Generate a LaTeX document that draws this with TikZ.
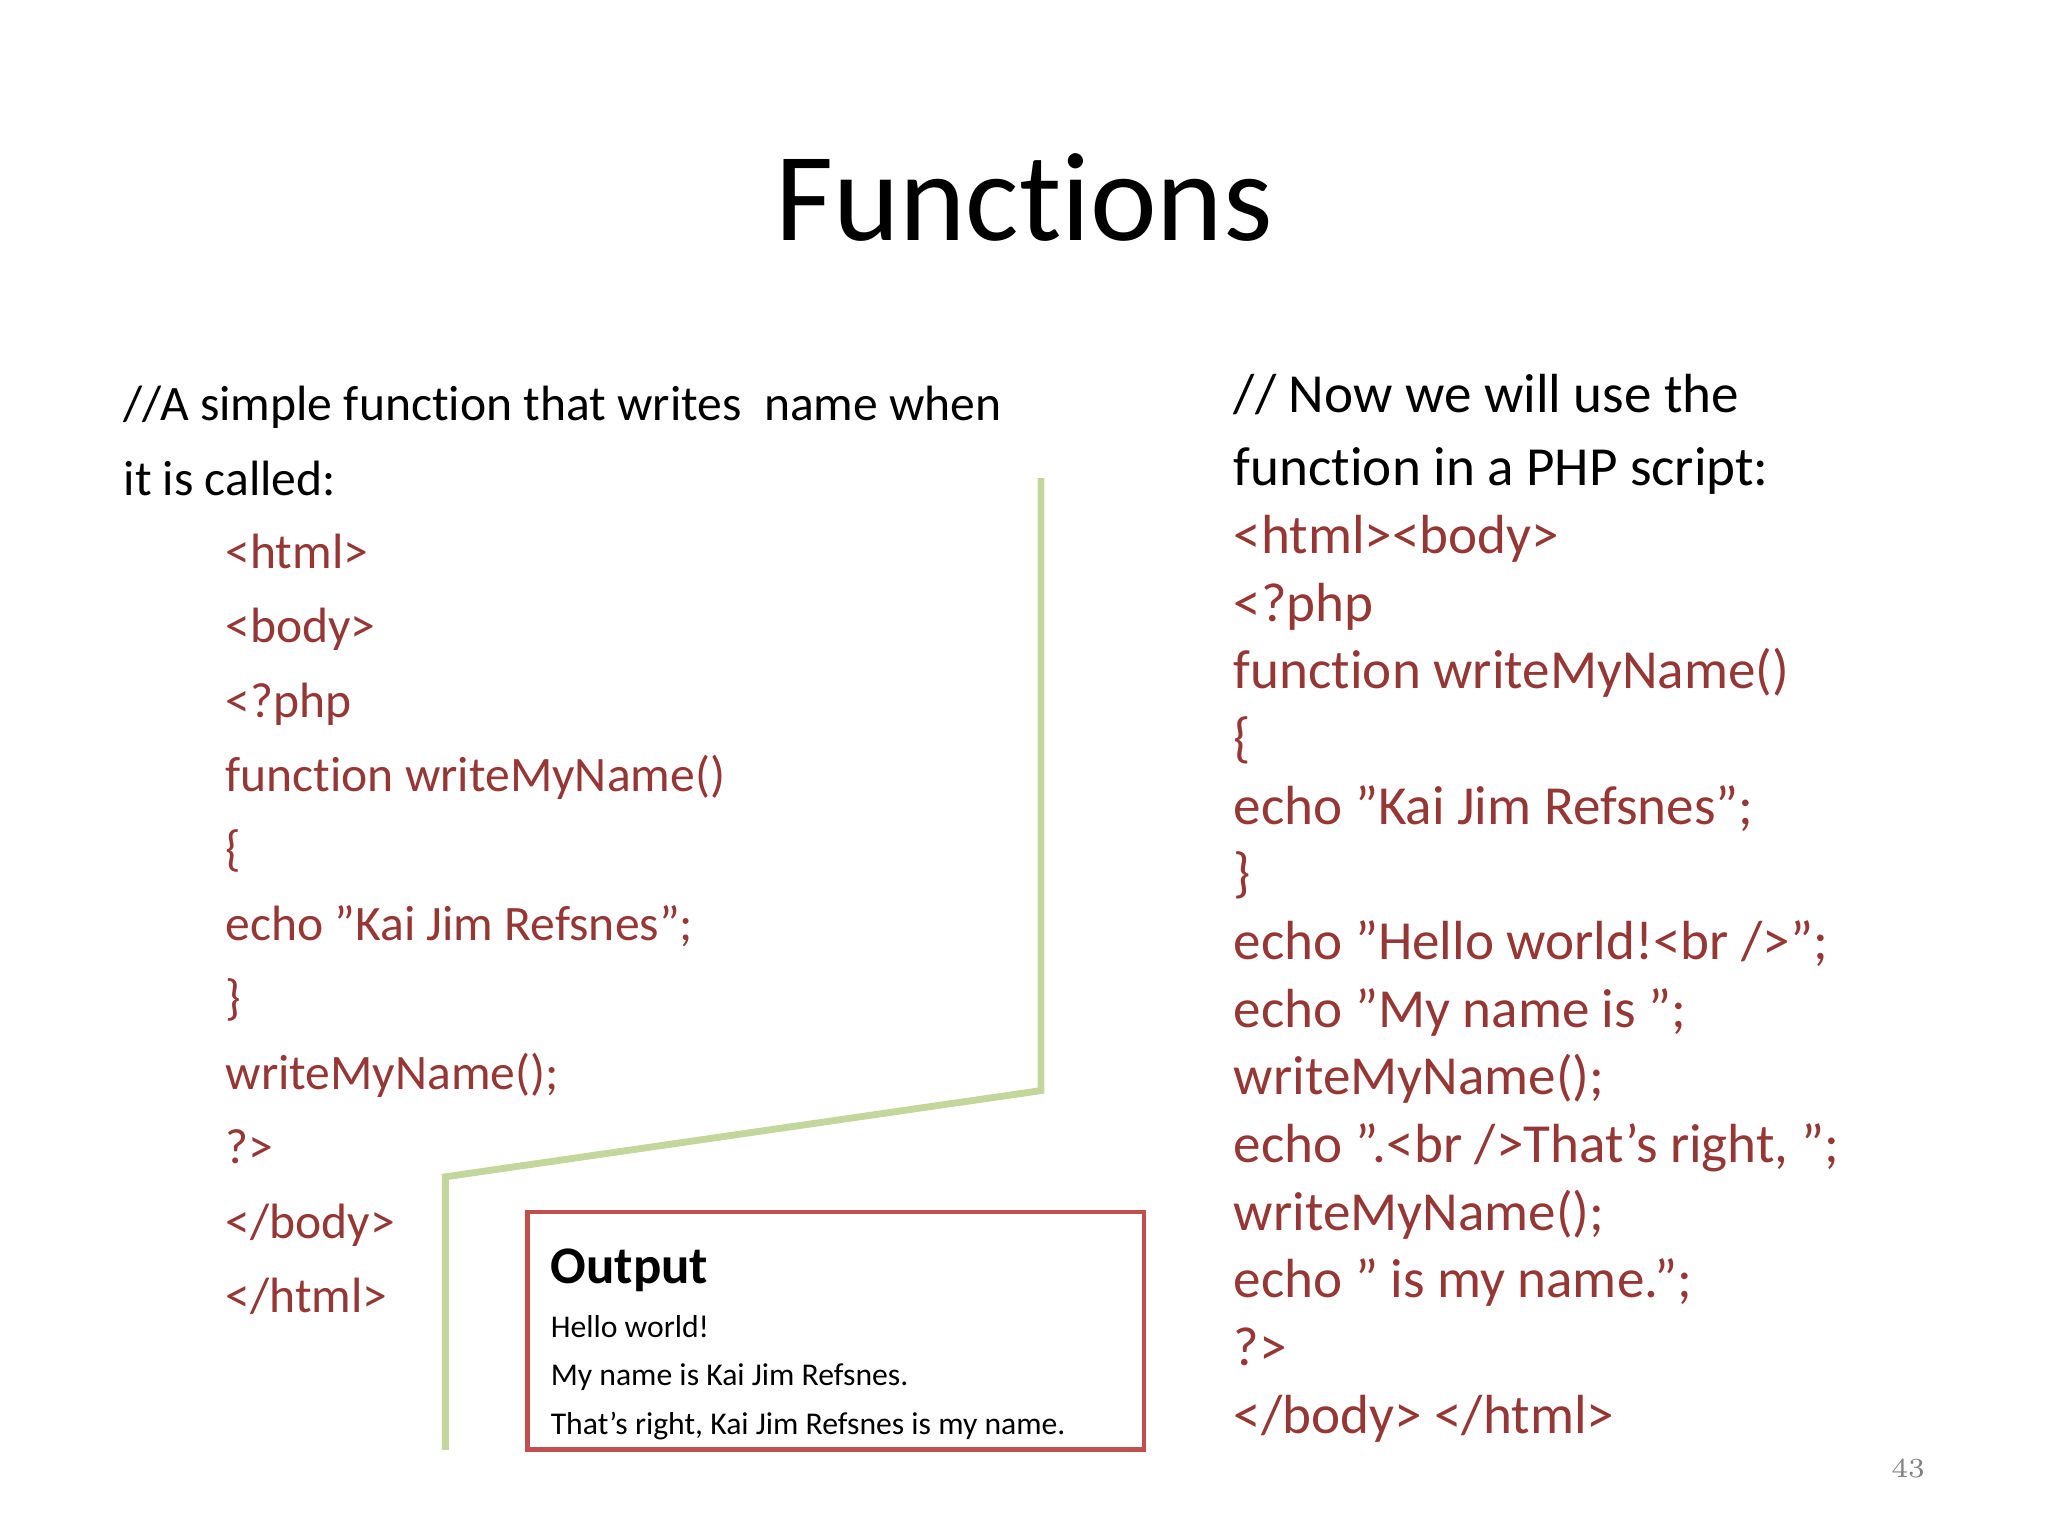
\documentclass[tikz,border=0pt]{standalone}
\usepackage{fontspec}
\setmainfont{Carlito}[Ligatures={ResetAll,NoCommon}]
\begin{document}
\begin{tikzpicture}[x=0.01cm,y=-0.01cm,
  lt/.style={anchor=base west,inner sep=0pt,font=\fontsize{10.8pt}{12pt}\selectfont},
  rt/.style={anchor=base west,inner sep=0pt,font=\fontsize{12pt}{13pt}\selectfont},
  code/.style={text=codered},
  ot/.style={anchor=base west,inner sep=0pt,font=\fontsize{6.9pt}{8pt}\selectfont}]
\definecolor{codered}{HTML}{953735}
\definecolor{gline}{HTML}{C3D69B}
\definecolor{boxred}{HTML}{C0504D}
\useasboundingbox (0,0) rectangle (1568,1176);
\node[anchor=base,inner sep=0pt,font=\fontsize{27.5pt}{30pt}\selectfont] (title) at (784,184) {Functions};
% left
\node[lt] (l1) at (94,322) {//A simple function that writes\ \ name when};
\node[lt] (l2) at (94,379) {it is called:};
\foreach \t [count=\i] in {{<html>},{<body>},{<?php},{function writeMyName()},{\{},{echo "Kai Jim Refsnes";},{\}},{writeMyName();},{?>},{</body>},{</html>}}
  \node[lt,code] (lc\i) at (172,378+57*\i) {\t};
% right
\node[rt] (r1) at (944,316) {// Now we will use the};
\node[rt] (r2) at (944,372) {function in a PHP script:};
\foreach \t [count=\i] in {{<html><body>},{<?php},{function writeMyName()},{\{},{echo "Kai Jim Refsnes";},{\}},{echo "Hello world!<br />";},{echo "My name is ";},{writeMyName();},{echo ".<br />That's right, ";},{writeMyName();},{echo " is my name.";},{?>},{</body> </html>}}
  \node[rt,code] (rc\i) at (944,372+51.8*\i) {\t};
% green line
\coordinate (g1) at (797,366);
\coordinate (g2) at (797,835);
\coordinate (g3) at (341,901);
\coordinate (g4) at (341,1110);
\draw[gline,line width=1.5pt] (g1) -- (g2) -- (g3) -- (g4);
% output box
\draw[boxred,line width=1pt] (404,928) rectangle (876,1110);
\node[anchor=base west,inner sep=0pt,font=\fontsize{11.5pt}{13pt}\selectfont\bfseries] (out) at (421,983) {Output};
\node[ot] (o1) at (421,1024) {Hello world!};
\node[ot] (o2) at (421,1061) {My name is Kai Jim Refsnes.};
\node[ot] (o3) at (421,1098) {That's right, Kai Jim Refsnes is my name.};
\node[anchor=base,inner sep=0pt,text=gray,font=\fontfamily{lmr}\fontsize{6pt}{7pt}\selectfont] (pg) at (1461,1131) {43};
\end{tikzpicture}
\end{document}
